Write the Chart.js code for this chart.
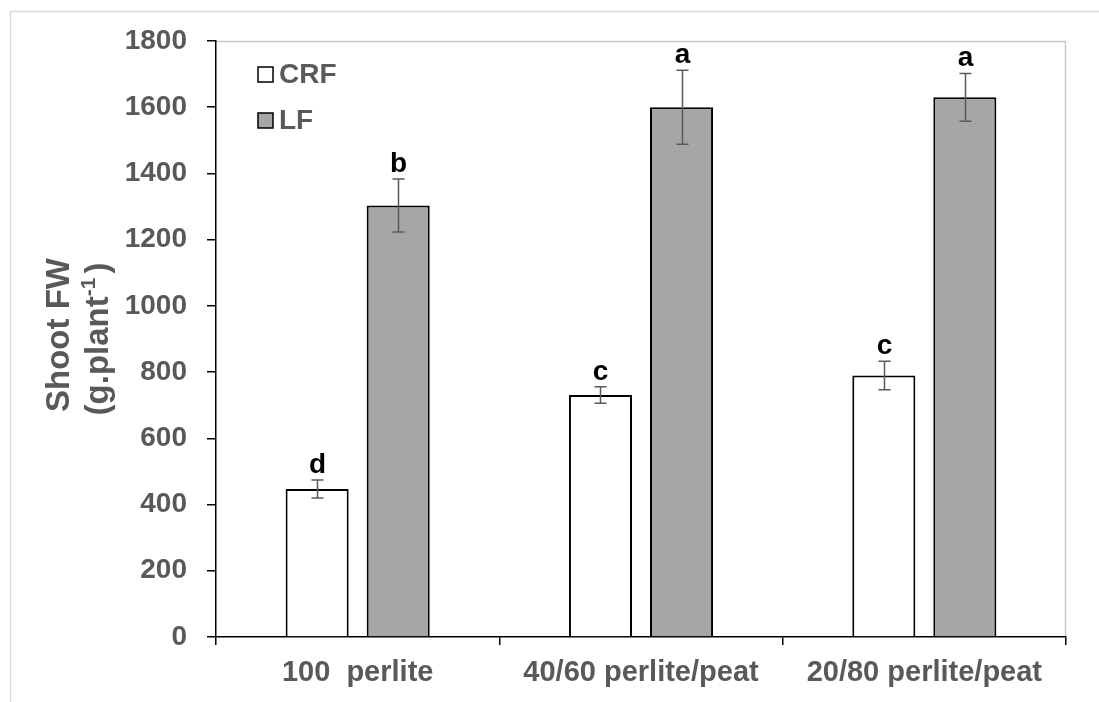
<!DOCTYPE html>
<html>
<head>
<meta charset="utf-8">
<script src="https://cdn.jsdelivr.net/npm/chart.js@4"></script>
<style>
  html, body { margin: 0; padding: 0; background: #fff; }
  #wrap { width: 1099px; height: 702px; }
</style>
</head>
<body>
<div id="wrap"><canvas id="chart" width="1099" height="702"></canvas></div>
<script>
// data
const categories = ['100  perlite', '40/60 perlite/peat', '20/80 perlite/peat'];
const crfValues = [447, 731, 790];
const crfErrors = [27, 25, 43];
const crfLetters = ['d', 'c', 'c'];
const lfValues = [1303, 1600, 1630];
const lfErrors = [80, 112, 72];
const lfLetters = ['b', 'a', 'a'];
const yTicks = [0, 200, 400, 600, 800, 1000, 1200, 1400, 1600, 1800];

const FONT = '"Liberation Sans", Arial, sans-serif';
const GREY_TEXT = '#595959';

// frame lines: outer chart border and top/right plot border
const framePlugin = {
  id: 'frame',
  beforeDraw(chart) {
    const ctx = chart.ctx;
    const a = chart.chartArea;
    ctx.save();
    ctx.fillStyle = '#fff';
    ctx.fillRect(0, 0, chart.width, chart.height);
    ctx.strokeStyle = '#d9d9d9';
    ctx.lineWidth = 1.5;
    ctx.beginPath();
    ctx.moveTo(10.5, chart.height);
    ctx.lineTo(10.5, 11.5);
    ctx.lineTo(chart.width, 11.5);
    ctx.stroke();
    ctx.strokeStyle = '#c8c8c8';
    ctx.beginPath();
    ctx.moveTo(a.left, a.top + 0.5);
    ctx.lineTo(a.right - 0.5, a.top + 0.5);
    ctx.lineTo(a.right - 0.5, a.bottom);
    ctx.stroke();
    ctx.restore();
  }
};

// error bars and significance letters
const errorPlugin = {
  id: 'errors',
  afterDatasetsDraw(chart) {
    const ctx = chart.ctx;
    const y = chart.scales.y;
    const sets = [[crfErrors, crfLetters], [lfErrors, lfLetters]];
    ctx.save();
    sets.forEach(([errs, letters], di) => {
      const meta = chart.getDatasetMeta(di);
      const vals = chart.data.datasets[di].data;
      meta.data.forEach((bar, i) => {
        const x = Math.round(bar.x) + 0.5;
        const top = y.getPixelForValue(vals[i] + errs[i]);
        const bot = y.getPixelForValue(vals[i] - errs[i]);
        ctx.strokeStyle = '#595959';
        ctx.lineWidth = 1.5;
        ctx.beginPath();
        ctx.moveTo(x, top); ctx.lineTo(x, bot);
        ctx.moveTo(x - 6, top); ctx.lineTo(x + 6, top);
        ctx.moveTo(x - 6, bot); ctx.lineTo(x + 6, bot);
        ctx.stroke();
        ctx.fillStyle = '#000';
        ctx.font = 'bold 28px ' + FONT;
        ctx.textAlign = 'center';
        ctx.textBaseline = 'alphabetic';
        ctx.fillText(letters[i], x, top - 7);
      });
    });
    ctx.restore();
  }
};

// legend inside the plot, and two-line y title with superscript
const labelPlugin = {
  id: 'labels',
  afterDraw(chart) {
    const ctx = chart.ctx;
    ctx.save();
    chart.data.datasets.forEach((ds, i) => {
      const sy = 67 + i * 46;
      ctx.fillStyle = ds.backgroundColor;
      ctx.fillRect(258, sy, 15, 15);
      ctx.strokeStyle = '#000';
      ctx.lineWidth = 1.5;
      ctx.strokeRect(258, sy, 15, 15);
      ctx.fillStyle = GREY_TEXT;
      ctx.font = 'bold 28px ' + FONT;
      ctx.textAlign = 'left';
      ctx.textBaseline = 'middle';
      ctx.fillText(ds.label, 279, sy + 8);
    });

    const a = chart.chartArea;
    const cy = (a.top + a.bottom) / 2;
    ctx.translate(0, cy);
    ctx.rotate(-Math.PI / 2);
    ctx.fillStyle = GREY_TEXT;
    ctx.textBaseline = 'middle';
    ctx.textAlign = 'center';
    const big = 'bold 33px ' + FONT, small = 'bold 21px ' + FONT;
    ctx.font = big;
    ctx.fillText('Shoot FW', 4, 60);
    // second line: (g.plant-1) with raised -1
    ctx.font = big;
    const w1 = ctx.measureText('(g.plant').width;
    const w3 = ctx.measureText(')').width + 4;
    ctx.font = small;
    const w2 = ctx.measureText('-1').width;
    let x = -(w1 + w2 + w3) / 2;
    ctx.textAlign = 'left';
    ctx.font = big;
    ctx.fillText('(g.plant', x, 99);
    x += w1;
    ctx.font = small;
    ctx.fillText('-1', x, 89);
    x += w2 + 4;
    ctx.font = big;
    ctx.fillText(')', x, 99);
    ctx.restore();
  }
};

new Chart(document.getElementById('chart'), {
  type: 'bar',
  data: {
    labels: categories,
    datasets: [
      {
        label: 'CRF',
        data: crfValues,
        backgroundColor: '#ffffff',
        borderColor: '#000000',
        borderWidth: 2,
        categoryPercentage: 0.572,
        barPercentage: 0.778
      },
      {
        label: 'LF',
        data: lfValues,
        backgroundColor: '#a6a6a6',
        borderColor: '#000000',
        borderWidth: 2,
        categoryPercentage: 0.572,
        barPercentage: 0.778
      }
    ]
  },
  options: {
    responsive: false,
    animation: false,
    layout: { padding: { top: 41, right: 33, left: 0, bottom: 0 } },
    plugins: {
      legend: { display: false },
      tooltip: { enabled: false }
    },
    scales: {
      x: {
        offset: true,
        afterFit(scale) { scale.height = 65; },
        border: { color: '#000', width: 1.5 },
        grid: { offset: true, drawOnChartArea: false, color: '#000', lineWidth: 1.5, tickLength: 8 },
        ticks: {
          color: GREY_TEXT,
          font: { family: FONT, size: 29, weight: 'bold' },
          padding: 11,
          maxRotation: 0,
          autoSkip: false
        }
      },
      y: {
        min: yTicks[0],
        max: yTicks[yTicks.length - 1],
        afterFit(scale) { scale.width = 216; },
        afterBuildTicks(scale) { scale.ticks = yTicks.map(v => ({ value: v })); },
        border: { color: '#000', width: 1.5 },
        grid: { drawOnChartArea: false, color: '#000', lineWidth: 1.5, tickLength: 9 },
        ticks: {
          color: GREY_TEXT,
          font: { family: FONT, size: 28, weight: 'bold' },
          padding: 20,
          callback: v => String(v)
        }
      }
    }
  },
  plugins: [framePlugin, errorPlugin, labelPlugin]
});
</script>
</body>
</html>
